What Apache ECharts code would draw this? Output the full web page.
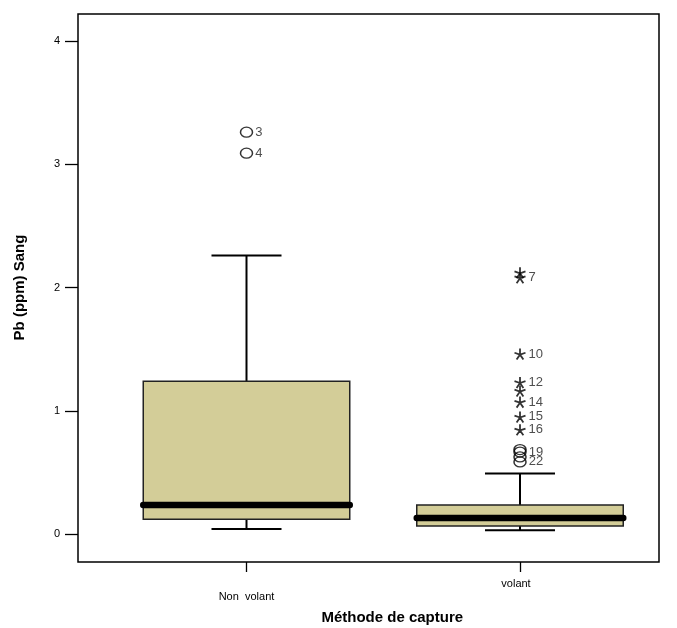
<!DOCTYPE html>
<html>
<head>
<meta charset="utf-8">
<script src="https://cdn.jsdelivr.net/npm/echarts@6/dist/echarts.min.js"></script>
<style>html,body{margin:0;padding:0;background:#fff}#c{width:677px;height:628px}</style>
</head>
<body>
<div id="c"></div>
<script>
// ---- data ----
var categories = ['Non  volant', 'volant'];
// [low whisker, Q1, median, Q3, high whisker]
var boxNonVolant = [0.04, 0.12, 0.235, 1.24, 2.26];
var boxVolant = [0.03, 0.065, 0.13, 0.235, 0.49];
var circleOutliersNonVolant = [3.26, 3.09];
var circleLabelsNonVolant = ['3', '4'];
var starOutliersVolant = [2.12, 2.08, 1.46, 1.23, 1.16, 1.07, 0.95, 0.845];
var starLabelsVolant = ['', '7', '10', '12', '', '14', '15', '16'];
var circleOutliersVolant = [0.685, 0.665, 0.625, 0.585];
var circleLabelsVolant = ['', '19', '', '22'];
var yTicks = [0, 1, 2, 3, 4];

// ---- build ----
var boxData = [[0].concat(boxNonVolant), [1].concat(boxVolant)];
function pts(cat, vals, labels) {
  return vals.map(function (v, i) { return { value: [cat, v], lab: labels[i] }; });
}
var circleData = pts(0, circleOutliersNonVolant, circleLabelsNonVolant)
  .concat(pts(1, circleOutliersVolant, circleLabelsVolant));
var starData = pts(1, starOutliersVolant, starLabelsVolant);

var starPath = 'path://M0,0L0,-5M0,0L4.76,-1.55M0,0L2.94,4.05M0,0L-2.94,4.05M0,0L-4.76,-1.55';

function renderBox(params, api) {
  var c = api.value(0);
  var low = api.coord([c, api.value(1)]);
  var q1 = api.coord([c, api.value(2)]);
  var med = api.coord([c, api.value(3)]);
  var q3 = api.coord([c, api.value(4)]);
  var high = api.coord([c, api.value(5)]);
  var band = api.size([1, 0])[0];
  var bw = band * 0.755, cw = band * 0.256;
  var cx = low[0];
  var ln = { stroke: '#000', lineWidth: 2 };
  return {
    type: 'group',
    children: [
      { type: 'line', shape: { x1: cx, y1: high[1], x2: cx, y2: q3[1] }, style: ln },
      { type: 'line', shape: { x1: cx - cw / 2, y1: high[1], x2: cx + cw / 2, y2: high[1] }, style: ln },
      { type: 'line', shape: { x1: cx, y1: q1[1], x2: cx, y2: low[1] }, style: ln },
      { type: 'line', shape: { x1: cx - cw / 2, y1: low[1], x2: cx + cw / 2, y2: low[1] }, style: ln },
      { type: 'rect', shape: { x: cx - bw / 2, y: q3[1], width: bw, height: q1[1] - q3[1] },
        style: { fill: '#D3CD98', stroke: '#222', lineWidth: 1.5 } },
      { type: 'line', shape: { x1: cx - bw / 2, y1: med[1], x2: cx + bw / 2, y2: med[1] },
        style: { stroke: '#000', lineWidth: 6.5, lineCap: 'round' } }
    ]
  };
}

var FONT = 'Liberation Sans, Arial, sans-serif';
var labelCfg = {
  show: true, position: 'right', distance: 2,
  formatter: function (p) { return p.data.lab; },
  fontFamily: FONT, fontSize: 13, color: '#222'
};

var chart = echarts.init(document.getElementById('c'), null, { renderer: 'canvas' });
chart.setOption({
  animation: false,
  backgroundColor: '#fff',
  grid: [
    { left: 109.75, right: 20.25, top: 41, bottom: 94, containLabel: false, outerBoundsMode: 'none' },
    { left: 78, right: 18, top: 14, bottom: 66, containLabel: false, outerBoundsMode: 'none', show: true,
      borderColor: '#000', borderWidth: 1.5, backgroundColor: 'transparent', z: 10 }
  ],
  xAxis: [
    { type: 'category', gridIndex: 0, data: categories, boundaryGap: true, offset: 28,
      axisLine: { show: false, onZero: false },
      axisTick: { show: true, alignWithLabel: true, length: 10, lineStyle: { color: '#000', width: 1.3 } },
      axisLabel: {
        margin: 16, interval: 0, color: '#000',
        fontFamily: FONT, fontSize: 11,
        formatter: function (v, i) { return i === 0 ? '{lo|' + v + '}' : '{hi|' + v + '}'; },
        rich: { lo: { padding: [13, 0, 0, 0], fontSize: 11, fontFamily: FONT, color: '#000' },
                hi: { padding: [0, 8, 0, 0], fontSize: 11, fontFamily: FONT, color: '#000' } }
      },
      splitLine: { show: false },
      name: 'Méthode de capture', nameLocation: 'middle', nameGap: 48,
      nameTextStyle: { fontFamily: FONT, fontSize: 15, fontWeight: 'bold', color: '#000', padding: [0, 0, 0, 18] }
    },
    { type: 'value', gridIndex: 1, show: false }
  ],
  yAxis: [
    { type: 'value', gridIndex: 0, min: yTicks[0], max: yTicks[yTicks.length - 1], interval: 1, offset: 31.75,
      axisLine: { show: false, onZero: false },
      axisTick: { show: true, length: 13, lineStyle: { color: '#000', width: 1.3 } },
      axisLabel: { margin: 18, color: '#000', fontFamily: FONT, fontSize: 11 },
      splitLine: { show: false },
      name: 'Pb (ppm) Sang', nameLocation: 'middle', nameGap: 51, nameRotate: 90,
      nameTextStyle: { fontFamily: FONT, fontSize: 15, fontWeight: 'bold', color: '#000' }
    },
    { type: 'value', gridIndex: 1, show: false }
  ],
  series: [
    { type: 'custom', xAxisIndex: 0, yAxisIndex: 0, data: boxData, renderItem: renderBox,
      encode: { x: 0, y: [1, 2, 3, 4, 5] }, clip: false },
    { type: 'scatter', xAxisIndex: 0, yAxisIndex: 0, data: circleData, symbol: 'circle', symbolSize: [12, 10],
      itemStyle: { color: 'rgba(0,0,0,0)', borderColor: '#000', borderWidth: 1.4 }, label: labelCfg, z: 5 },
    { type: 'scatter', xAxisIndex: 0, yAxisIndex: 0, data: starData, symbol: starPath, symbolSize: 11,
      itemStyle: { color: 'rgba(0,0,0,0)', borderColor: '#000', borderWidth: 1.8 }, label: labelCfg, z: 5 }
  ]
});
</script>
</body>
</html>
